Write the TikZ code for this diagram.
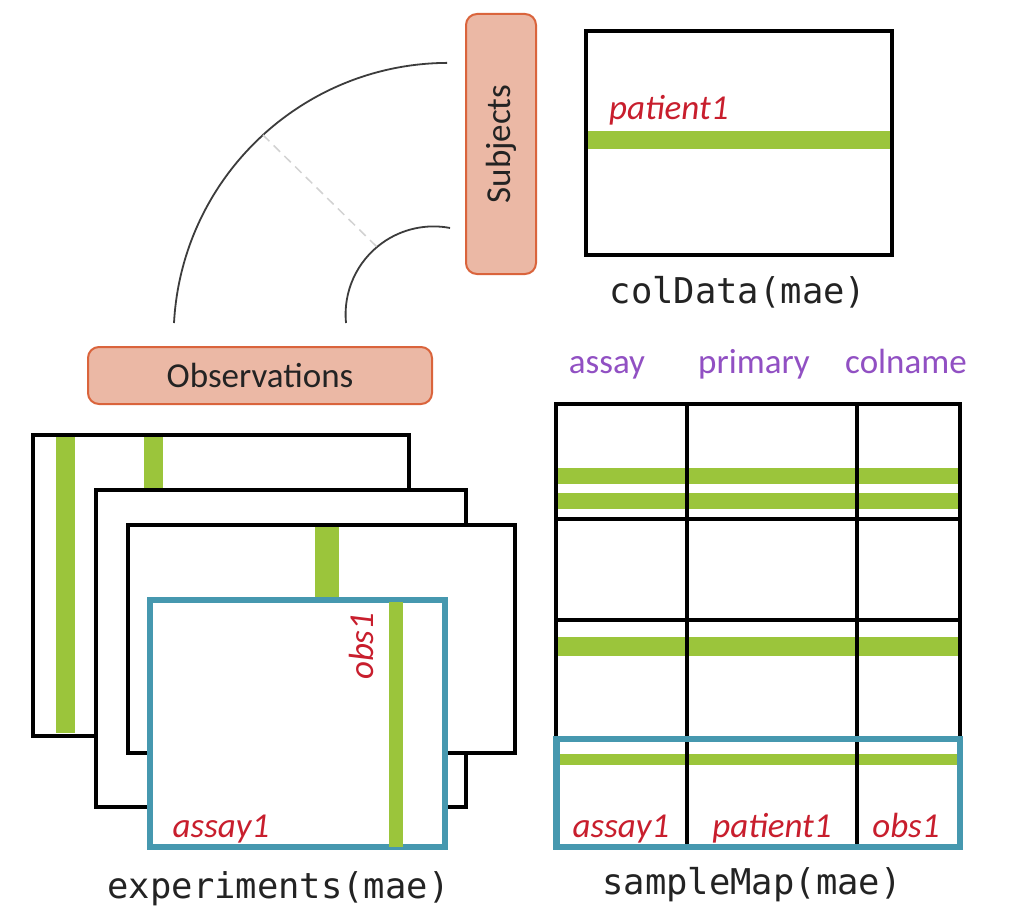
\documentclass[tikz,border=0pt]{standalone}
\usepackage{fontspec}
\newfontfamily\carl{Carlito}
\newfontfamily\monof{DejaVu Sans Mono}
\definecolor{gbar}{RGB}{155,197,59}
\definecolor{bluesel}{RGB}{70,152,175}
\definecolor{salmon}{RGB}{235,184,165}
\definecolor{orangeb}{RGB}{218,100,60}
\definecolor{redtxt}{RGB}{200,30,45}
\definecolor{purp}{RGB}{145,80,195}
\definecolor{darktxt}{RGB}{35,35,35}
\definecolor{arcgray}{RGB}{60,60,60}
\definecolor{dashgray}{RGB}{210,210,210}
\begin{document}
\begin{tikzpicture}[x=1pt,y=-1pt,
  frame/.style={draw=black,line width=3.2pt,fill=white,inner sep=0pt,outer sep=0pt,anchor=north west},
  bluebox/.style={draw=bluesel,line width=6.5pt,fill=white,inner sep=0pt,outer sep=0pt,anchor=north west},
  greenbar/.style={fill=gbar,draw=none},
  gridline/.style={draw=black,line width=3.2pt},
  tag/.style={draw=orangeb,line width=2pt,fill=salmon,rounded corners=11pt,inner sep=0pt,
    font=\carl\fontsize{35}{40}\selectfont,text=darktxt},
  redit/.style={font=\carl\itshape\fontsize{35}{40}\selectfont,text=redtxt,inner sep=0pt},
  hdr/.style={font=\carl\fontsize{35}{40}\selectfont,text=purp,inner sep=0pt,anchor=base},
  code/.style={font=\monof\fontsize{35.5}{40}\selectfont,text=darktxt,inner sep=0pt,anchor=base},
  arcline/.style={draw=arcgray,line width=1.8pt},
  dashline/.style={draw=dashgray,line width=1.5pt,dash pattern=on 9pt off 6pt}]
\useasboundingbox[fill=white] (0,0) rectangle (1012,923);

% ---- arcs ----
\coordinate (oa) at (174,323);
\coordinate (ia) at (346,323);
\coordinate (d1) at (263,135);
\coordinate (d2) at (377,247);
\draw[arcline] (oa) arc[start angle=176.9, end angle=90.3, radius=275pt];
\draw[arcline] (ia) arc[start angle=185.6, end angle=79.2, radius=88pt];
\draw[dashline] (d1) -- (d2);

% ---- tags ----
\node[tag, rotate=90, minimum width=260, minimum height=70] (subj) at (501,144) {Subjects};
\node[tag, minimum width=344, minimum height=57] (obs) at (260,375.5) {Observations};

% ---- colData ----
\node[frame, minimum width=306, minimum height=224] (cd) at (586,31) {};
\fill[greenbar] (587.6,131) rectangle (890.4,149);
\node[redit, anchor=base west] (cdp) at (609,120) {patient1};
\node[code] (cdl) at (738,303) {colData(mae)};

% ---- experiments ----
\node[frame, minimum width=376, minimum height=301] (e1) at (33,435) {};
\fill[greenbar] (56,436.6) rectangle (75,733);
\fill[greenbar] (144,436.6) rectangle (163,490);
\node[frame, minimum width=370, minimum height=317] (e2) at (96,490) {};
\node[frame, minimum width=387, minimum height=228] (e3) at (128,525) {};
\fill[greenbar] (315,526.6) rectangle (339,600);
\node[bluebox, minimum width=295, minimum height=247] (e4) at (150,600) {};
\fill[greenbar] (389,602) rectangle (403,847);
\node[redit, anchor=base] (ea) at (221,837) {assay1};
\node[redit, rotate=90, anchor=base west] (eo) at (373,680) {obs1};
\node[code] (el) at (278.5,898) {experiments(mae)};

% ---- sampleMap ----
\node[hdr] (h1) at (607,373) {assay};
\node[hdr] (h2) at (754,373) {primary};
\node[hdr] (h3) at (906,373) {colname};
\fill[greenbar] (557.5,468) rectangle (957.5,484);
\fill[greenbar] (557.5,493) rectangle (957.5,509);
\fill[greenbar] (557.5,637) rectangle (957.5,656);
\fill[greenbar] (557.5,754) rectangle (957.5,765);
\node[frame, fill=none, minimum width=404, minimum height=443] (sm) at (556,404) {};
\draw[gridline] (687,404) -- (687,847);
\draw[gridline] (857,404) -- (857,847);
\draw[gridline] (556,519) -- (960,519);
\draw[gridline] (556,620) -- (960,620);
\draw[gridline] (556,739) -- (960,739);
\node[bluebox, fill=none, minimum width=403.3, minimum height=108] (sel) at (556.7,739) {};
\node[redit, anchor=base] (sa) at (621,837) {assay1};
\node[redit, anchor=base] (sp) at (772,837) {patient1};
\node[redit, anchor=base] (so) at (906,837) {obs1};
\node[code] (sl) at (752,894) {sampleMap(mae)};
\end{tikzpicture}
\end{document}
